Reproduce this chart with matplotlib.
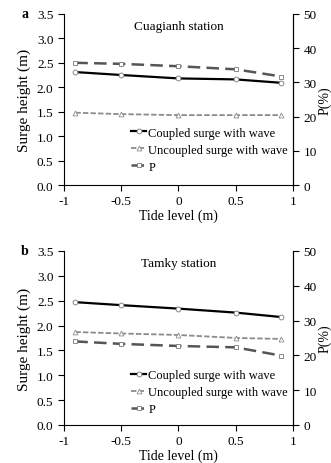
import matplotlib.pyplot as plt
from matplotlib.lines import Line2D

plt.rcParams['font.family'] = ['Liberation Serif', 'DejaVu Serif']

tide = [-0.9, -0.5, 0, 0.5, 0.9]

# Cuagianh station
cua_coupled = [2.31, 2.25, 2.18, 2.16, 2.09]
cua_uncoupled = [1.48, 1.45, 1.43, 1.43, 1.43]
cua_p = [35.7, 35.4, 34.7, 33.8, 31.7]

# Tamky station
tam_coupled = [2.47, 2.41, 2.34, 2.26, 2.17]
tam_uncoupled = [1.87, 1.84, 1.81, 1.75, 1.73]
tam_p = [24.0, 23.3, 22.7, 22.3, 19.9]

fig = plt.figure(figsize=(3.31, 4.64), dpi=100)


def panel(rect, letter, station, coupled, uncoupled, p, leg_y):
    ax = fig.add_axes(rect)
    ax2 = ax.twinx()
    ax.plot(tide, coupled, color='black', lw=1.6, marker='o', ms=3.5,
            mfc='white', mec='#777777', mew=0.6, zorder=3)
    ax.plot(tide, uncoupled, color='#8c8c8c', lw=1.3, ls=(0, (3, 1.2)),
            marker='^', ms=3.5, mfc='white', mec='#8c8c8c', mew=0.6)
    ax2.plot(tide, p, color='#555555', lw=1.8, ls=(0, (5, 2.5)),
             marker='s', ms=3.5, mfc='white', mec='#777777', mew=0.6)

    ax.set_xlim(-1, 1)
    ax.set_ylim(0, 3.5)
    ax2.set_ylim(0, 50)
    ax.set_xticks([-1, -0.5, 0, 0.5, 1])
    ax.set_xticklabels(['-1', '-0.5', '0', '0.5', '1'])
    ax.set_yticks([0, 0.5, 1.0, 1.5, 2.0, 2.5, 3.0, 3.5])
    ax.set_yticklabels(['%.1f' % v for v in ax.get_yticks()])
    ax2.set_yticks([0, 10, 20, 30, 40, 50])

    for a in (ax, ax2):
        a.spines['top'].set_visible(False)
        a.tick_params(labelsize=9.5, direction='out', length=4, width=0.8)
    ax2.spines['left'].set_visible(False)
    ax2.spines['bottom'].set_visible(False)
    ax.tick_params(axis='x', pad=3)

    ax.set_xlabel('Tide level (m)', fontsize=10, labelpad=1)
    ax.set_ylabel('Surge height (m)', fontsize=11, labelpad=4)
    ax2.set_ylabel('P(%)', fontsize=10, labelpad=1)

    ax.text(0.5, 0.93, station, transform=ax.transAxes, ha='center',
            va='center', fontsize=9.5)
    ax.text(-0.155, 1.0, letter, transform=ax.transAxes, ha='right',
            va='center', fontsize=10, fontweight='bold')

    handles = [
        Line2D([], [], color='black', lw=1.6, marker='o', ms=3.5,
               mfc='white', mec='#777777', mew=0.6),
        Line2D([], [], color='#8c8c8c', lw=1.3, ls=(0, (3, 1.2)),
               marker='^', ms=3.5, mfc='white', mec='#8c8c8c', mew=0.6),
        Line2D([], [], color='#555555', lw=1.8, ls=(0, (5, 2.5)),
               marker='s', ms=3.5, mfc='white', mec='#777777', mew=0.6),
    ]
    labels = ['Coupled surge with wave', 'Uncoupled surge with wave', 'P']
    ax2.legend(handles, labels, loc='upper left', bbox_to_anchor=(0.295, leg_y),
               frameon=False, fontsize=9, handlelength=1.2,
               handletextpad=0.15, labelspacing=0.4, borderaxespad=0,
               borderpad=0)


panel([0.193, 0.599, 0.692, 0.369], 'a', 'Cuagianh station',
      cua_coupled, cua_uncoupled, cua_p, 0.34)
panel([0.193, 0.082, 0.692, 0.375], 'b', 'Tamky station',
      tam_coupled, tam_uncoupled, tam_p, 0.32)

fig.savefig('out.png', dpi=100)
